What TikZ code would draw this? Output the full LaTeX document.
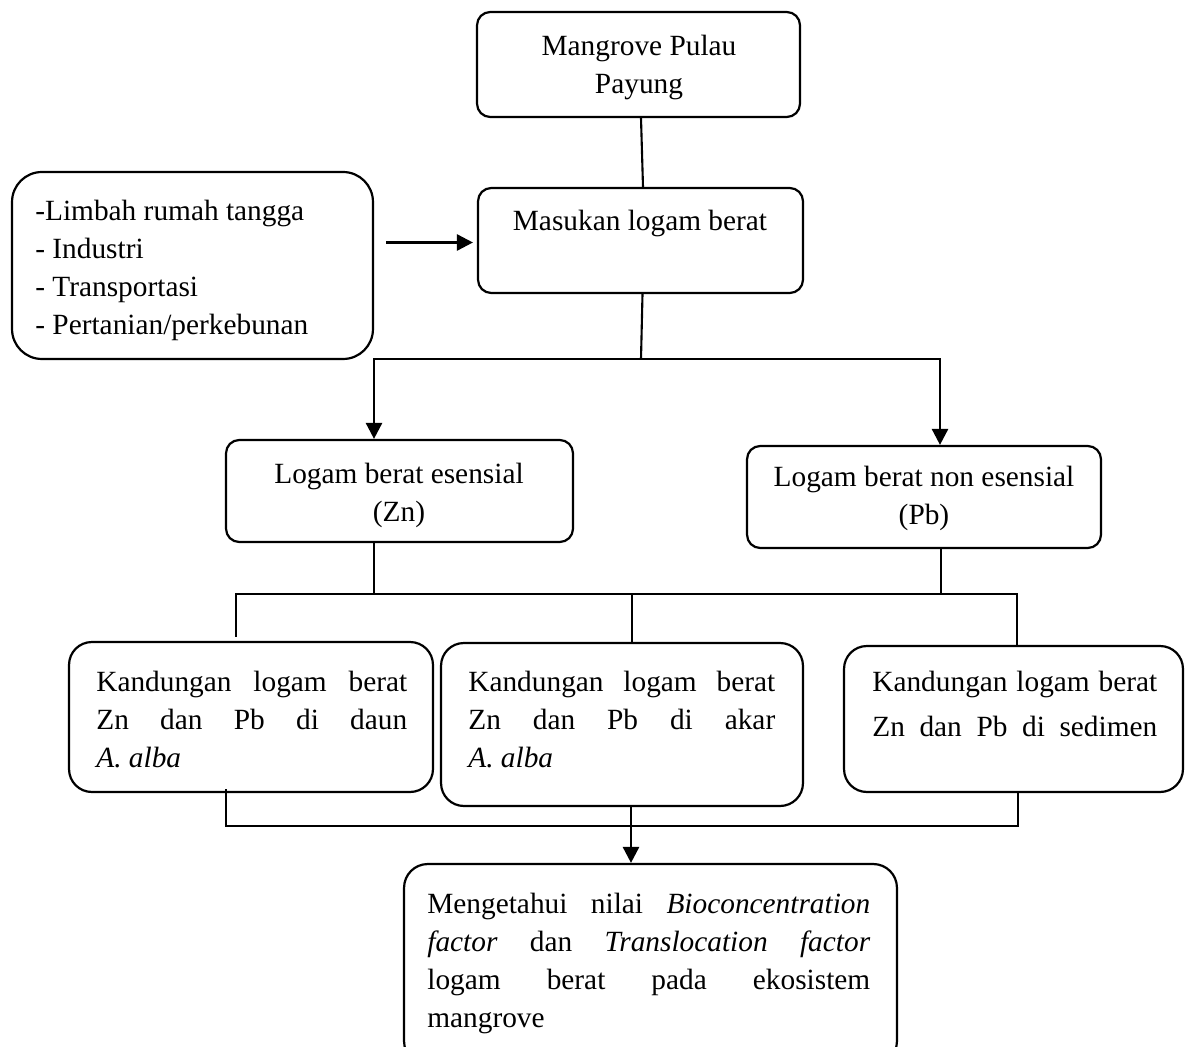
\documentclass[tikz,border=0pt]{standalone}
\usepackage{fontspec}
\setmainfont{Liberation Serif}
\usetikzlibrary{arrows.meta, positioning, calc}

\begin{document}
\begin{tikzpicture}[x=0.02cm, y=-0.02cm, font=\fontsize{16.7pt}{21.6pt}\selectfont,
    kotak/.style={draw, line width=1.25pt, rounded corners=#1},
    kotak/.default=8pt,
    teks/.style={inner sep=0pt, anchor=north},
    garis/.style={line width=1.2pt},
    panah/.style={line width=1.5pt, -{Triangle[length=0.32cm, width=0.32cm]}}]
        \useasboundingbox (0,0) rectangle (1190,1047);

        \node[kotak=7.5pt, minimum width=6.46cm, minimum height=2.1cm] (mangrove) at (638.5,64.5) {};
        \node[teks, align=center] (mangrovetxt) at (639,35) {Mangrove Pulau\\Payung};

        \node[kotak=7.5pt, minimum width=6.5cm, minimum height=2.1cm] (masukan) at (640.5,240.5) {};
        \node[teks] (masukantxt) at (640,210) {Masukan logam berat};

        \node[kotak=17pt, minimum width=7.22cm, minimum height=3.74cm] (sumber) at (192.5,265.5) {};
        \node[teks, anchor=north west, align=left] (sumbertxt) at (35,200)
          {-Limbah rumah tangga\\- Industri\\- Transportasi\\- Pertanian/perkebunan};

        \node[kotak=7.5pt, minimum width=6.94cm, minimum height=2.04cm] (esensial) at (399.5,491) {};
        \node[teks, align=center] (esensialtxt) at (399,463) {Logam berat esensial\\(Zn)};

        \node[kotak=7.5pt, minimum width=7.08cm, minimum height=2.04cm] (nonesensial) at (924,497) {};
        \node[teks, align=center] (nonesensialtxt) at (924,466) {Logam berat non esensial\\(Pb)};

        \node[kotak=13pt, minimum width=7.28cm, minimum height=3.0cm] (daun) at (251,717) {};
        \node[teks, anchor=north west, text width=6.22cm, align=justify] (dauntxt) at (96,671)
          {Kandungan logam berat\linebreak Zn dan Pb di daun\linebreak \textit{A. alba}};

        \node[kotak=13pt, minimum width=7.24cm, minimum height=3.26cm] (akar) at (622,724.5) {};
        \node[teks, anchor=north west, text width=6.14cm, align=justify] (akartxt) at (468,671)
          {Kandungan logam berat\linebreak Zn dan Pb di akar\linebreak \textit{A. alba}};

        \node[kotak=13pt, minimum width=6.78cm, minimum height=2.92cm] (sedimen) at (1013.5,719) {};
        \node[teks, anchor=north west, text width=5.7cm, align=justify,
              font=\fontsize{16.7pt}{25.6pt}\selectfont] (sedimentxt) at (872,671)
          {\setlength{\parfillskip}{0pt}Kandungan logam berat\linebreak Zn dan Pb di sedimen\par};

        \node[kotak=13.5pt, minimum width=9.86cm, minimum height=4.02cm] (hasil) at (650.5,964.5) {};
        \node[teks, anchor=north west, text width=8.86cm, align=justify] (hasiltxt) at (427,893)
          {Mengetahui nilai \textit{Bioconcentration}\linebreak \textit{factor} dan \textit{Translocation factor}\linebreak
           logam berat pada ekosistem\linebreak mangrove};

        \coordinate (bagi) at (641,359);
        \coordinate (jalur) at (0,594);
        \coordinate (jalurbawah) at (0,826);

        \draw[garis] ([xshift=0.05cm]mangrove.south) -- ([xshift=0.05cm]masukan.north);
        \draw[panah] ($(sumber.east |- masukan.west)+(12,2)$) -- ($(masukan.west)+(-4,2)$);
        \draw[garis] ([xshift=0.04cm]masukan.south) -- (bagi);
        \draw[panah] (bagi) -| ([xshift=-0.51cm]esensial.north);
        \draw[panah] (bagi) -| ([xshift=0.32cm]nonesensial.north);

        \draw[garis] ([xshift=-0.51cm]esensial.south) -- ([xshift=-0.51cm]esensial.south |- jalur);
        \draw[garis] ([xshift=0.34cm]nonesensial.south) -- ([xshift=0.34cm]nonesensial.south |- jalur);
        \draw[garis] ([xshift=-0.3cm, yshift=0.08cm]daun.north) |- ([xshift=0.07cm]sedimen.north |- jalur)
          -- ([xshift=0.07cm]sedimen.north);
        \draw[garis] ([xshift=0.2cm]akar.north) -- ([xshift=0.2cm]akar.north |- jalur);

        \draw[garis] ([xshift=-0.5cm, yshift=0.08cm]daun.south) |- ([xshift=0.09cm]sedimen.south |- jalurbawah)
          -- ([xshift=0.09cm]sedimen.south);
        \draw[panah] ([xshift=0.18cm]akar.south) -- ([xshift=0.18cm]akar.south |- hasil.north);
      \end{tikzpicture}
\end{document}
